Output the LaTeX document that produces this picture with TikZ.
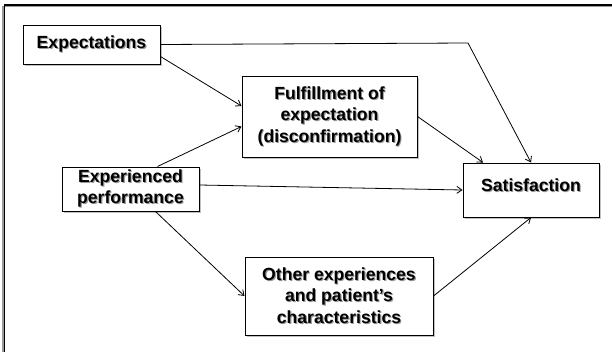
\documentclass[tikz,border=0pt]{standalone}
\usepackage{fontspec}
\setmainfont{Liberation Sans}
\usetikzlibrary{arrows.meta,shadows,calc}
% text with a soft grey drop shadow
\newcommand\shd[1]{\leavevmode\rlap{\kern1.1pt\raisebox{-1.1pt}{\textcolor{black!40}{#1}}}#1}

\begin{document}
\begin{tikzpicture}[x=1pt,y=-1pt,
  box/.style={draw=black, line width=1pt, fill=white, inner sep=0pt, align=center,
    font=\bfseries\fontsize{17.6}{21.5}\selectfont,
    drop shadow={shadow xshift=1.8pt, shadow yshift=-1.8pt, opacity=0.4, fill=black!60}},
  link/.style={line width=0.8pt, -{Straight Barb[length=5pt,width=7pt]}}]
\clip (0,0) rectangle (612,351);
\fill[white] (0,0) rectangle (612,351);
% outer frame
\draw[black!40, line width=1.2pt] (3,6.5) rectangle (640,380);
\draw[line width=1.2pt] (4.5,5) rectangle (640,380);

% boxes
\node[box, minimum width=137pt, minimum height=39pt] (expt) at (91.5,44.5)
  {\shd{Expectations}};
\node[box, minimum width=175pt, minimum height=81pt] (ful) at (329.5,116.5)
  {\shd{Fulfillment of}\\\shd{expectation}\\\shd{(disconfirmation)}};
\node[box, minimum width=137pt, minimum height=44pt] (perf) at (130.5,189)
  {\shd{Experienced}\\\shd{performance}};
\node[box, minimum width=136pt, minimum height=54pt, text height=12.5pt, text depth=10pt] (sat) at (531,190)
  {\shd{Satisfaction}};
\node[box, minimum width=188pt, minimum height=78pt] (oth) at (339,296)
  {\shd{Other experiences}\\\shd{and patient’s}\\\shd{characteristics}};

% connectors
\coordinate (bend) at (468,43);
\draw[link] (expt.east) -- (bend) -- (sat.north);
\draw[link] ($(expt.east)+(0,12)$) -- ($(ful.west)+(0,-10.5)$);
\draw[link] ($(perf.north)+(27,0)$) -- ($(ful.west)+(0,10)$);
\draw[link] (ful.east) -- ($(sat.north)+(-48,0)$);
\draw[link] ($(perf.east)+(0,-4)$) -- (sat.west);
\draw[link] ($(perf.south)+(25,0)$) -- (oth.west);
\draw[link] (oth.east) -- (sat.south);
\end{tikzpicture}
\end{document}
